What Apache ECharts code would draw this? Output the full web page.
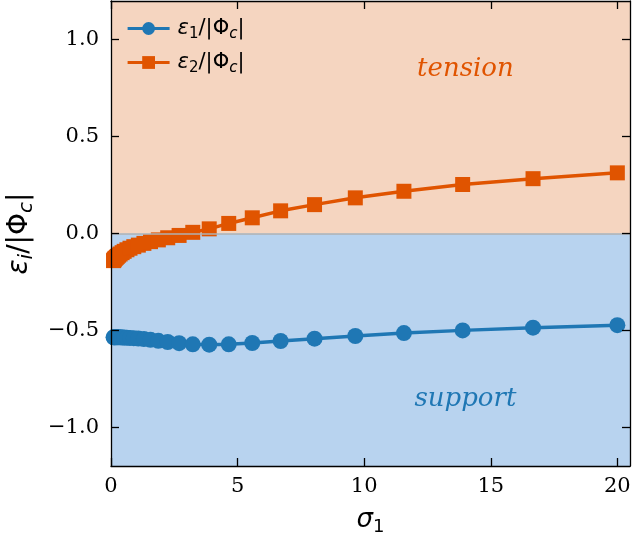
<!DOCTYPE html>
<html>
<head>
<meta charset="utf-8">
<script src="https://cdn.jsdelivr.net/npm/echarts@6.0.0/dist/echarts.min.js"></script>
<style>
html, body { margin: 0; padding: 0; background: #fff; }
#chart { width: 632px; height: 535px; }
</style>
</head>
<body>
<div id="chart"></div>
<script>
// sigma_1 (x values)
const sigma1 = [0.10, 0.12, 0.14, 0.17, 0.21, 0.25, 0.30, 0.36, 0.44, 0.52,
  0.63, 0.75, 0.90, 1.08, 1.30, 1.56, 1.87, 2.24, 2.69, 3.23,
  3.88, 4.65, 5.58, 6.70, 8.04, 9.65, 11.57, 13.89, 16.67, 20.00];
// eps_1 / |Phi_c|
const eps1 = [-0.536, -0.536, -0.536, -0.536, -0.536, -0.536, -0.536, -0.536, -0.537, -0.537,
  -0.538, -0.539, -0.540, -0.542, -0.545, -0.549, -0.554, -0.560, -0.566, -0.572,
  -0.574, -0.572, -0.565, -0.555, -0.543, -0.529, -0.514, -0.500, -0.486, -0.473];
// eps_2 / |Phi_c|
const eps2 = [-0.140, -0.136, -0.132, -0.128, -0.123, -0.118, -0.112, -0.106, -0.099, -0.092,
  -0.084, -0.076, -0.068, -0.060, -0.051, -0.042, -0.033, -0.022, -0.010, 0.006,
  0.024, 0.052, 0.081, 0.117, 0.149, 0.184, 0.218, 0.253, 0.283, 0.313];
const xTicks = [0, 5, 10, 15, 20];
const yTicks = [-1, -0.5, 0, 0.5, 1];

const BLUE = '#1f77b4';
const ORANGE = '#e05400';
const TICK_FONT = 'DejaVu Serif';
const MATH_FONT = 'DejaVu Sans';

const chart = echarts.init(document.getElementById('chart'));

const pairs = (ys) => sigma1.map((x, i) => [x, ys[i]]);
const yFmt = (v) => (v < 0 ? '\u2212' : '') + Math.abs(v).toFixed(1);

const mathRich = (size) => ({
  it: { fontFamily: MATH_FONT, fontStyle: 'italic', fontSize: size, color: '#000', lineHeight: size + 6 },
  lead: { fontFamily: MATH_FONT, fontStyle: 'italic', fontSize: size, color: '#000', lineHeight: size + 6, padding: [0, 0, 0, 3] },
  up: { fontFamily: MATH_FONT, fontSize: size, color: '#000', lineHeight: size + 6 },
  sub: { fontFamily: MATH_FONT, fontSize: Math.round(size * 0.7), color: '#000', verticalAlign: 'bottom', lineHeight: Math.round(size * 0.7) },
  subi: { fontFamily: MATH_FONT, fontStyle: 'italic', fontSize: Math.round(size * 0.7), color: '#000', verticalAlign: 'bottom', lineHeight: Math.round(size * 0.7) },
});

const legendText = {
  e1: '{lead|\u03b5}{sub|1}{up|/|\u03a6}{subi|c}{up||}',
  e2: '{lead|\u03b5}{sub|2}{up|/|\u03a6}{subi|c}{up||}',
};

const frameLine = { show: true, onZero: false, lineStyle: { color: '#000', width: 1.3 } };
const tickStyle = (vals) => ({ inside: true, length: 8, customValues: vals, lineStyle: { color: '#000', width: 1.3 } });

const option = {
  animation: false,
  backgroundColor: '#fff',
  grid: { left: 111, right: 2, top: 1, bottom: 69, outerBoundsMode: 'none', containLabel: false },
  legend: {
    left: 121,
    top: 13,
    orient: 'vertical',
    itemWidth: 42,
    itemHeight: 16,
    itemGap: 10,
    data: ['e1', 'e2'],
    formatter: (name) => legendText[name],
    lineStyle: { width: 3.2 },
    textStyle: { rich: mathRich(21) },
  },
  xAxis: [
    {
      type: 'value', z: 10, min: 0, max: 20.5, position: 'bottom',
      name: '{it|\u03c3}{sub|1}',
      nameLocation: 'middle', nameGap: 38,
      nameTextStyle: { rich: mathRich(26) },
      axisLine: frameLine,
      splitLine: { show: false },
      axisTick: tickStyle(xTicks),
      axisLabel: { customValues: xTicks, fontFamily: TICK_FONT, fontSize: 21, color: '#000', margin: 10 },
    },
    {
      type: 'value', z: 10, min: 0, max: 20.5, position: 'top',
      axisLine: frameLine,
      splitLine: { show: false },
      axisTick: tickStyle(xTicks),
      axisLabel: { show: false },
    },
  ],
  yAxis: [
    {
      type: 'value', z: 10, min: -1.2, max: 1.2, position: 'left',
      name: '{it|\u03b5}{subi|i}{up|/|\u03a6}{subi|c}{up||}',
      nameLocation: 'middle', nameGap: 72, nameRotate: 90,
      nameTextStyle: { rich: mathRich(28) },
      axisLine: frameLine,
      splitLine: { show: false },
      axisTick: tickStyle(yTicks),
      axisLabel: { customValues: yTicks, formatter: yFmt, fontFamily: TICK_FONT, fontSize: 21, color: '#000', margin: 12 },
    },
    {
      type: 'value', z: 10, min: -1.2, max: 1.2, position: 'right',
      axisLine: frameLine,
      splitLine: { show: false },
      axisTick: tickStyle(yTicks),
      axisLabel: { show: false },
    },
  ],
  series: [
    {
      // shaded regions, zero line and region labels
      name: 'regions',
      type: 'line',
      data: [],
      z: 1,
      markArea: {
        silent: true,
        data: [
          [{ yAxis: 0, itemStyle: { color: '#f5d5c0' } }, { yAxis: 1.2 }],
          [{ yAxis: -1.2, itemStyle: { color: '#b8d3ef' } }, { yAxis: 0 }],
        ],
      },
      markLine: {
        silent: true,
        symbol: 'none',
        label: { show: false },
        lineStyle: { color: '#b0b0b0', width: 1.5, type: 'solid' },
        data: [{ yAxis: 0 }],
      },
      markPoint: {
        silent: true,
        symbolSize: 0,
        data: [
          { coord: [14.0, 0.85], label: { show: true, formatter: 'tension', color: ORANGE, fontFamily: TICK_FONT, fontStyle: 'italic', fontSize: 26 } },
          { coord: [14.0, -0.855], label: { show: true, formatter: 'support', color: BLUE, fontFamily: TICK_FONT, fontStyle: 'italic', fontSize: 26 } },
        ],
      },
    },
    {
      name: 'e1',
      type: 'line',
      z: 3,
      data: pairs(eps1),
      symbol: 'circle',
      symbolSize: 16,
      color: BLUE,
      lineStyle: { width: 3.5, color: BLUE },
      itemStyle: { color: BLUE },
    },
    {
      name: 'e2',
      type: 'line',
      z: 4,
      data: pairs(eps2),
      symbol: 'rect',
      symbolSize: 15,
      color: ORANGE,
      lineStyle: { width: 3.5, color: ORANGE },
      itemStyle: { color: ORANGE },
    },
  ],
};

chart.setOption(option);
</script>
</body>
</html>
